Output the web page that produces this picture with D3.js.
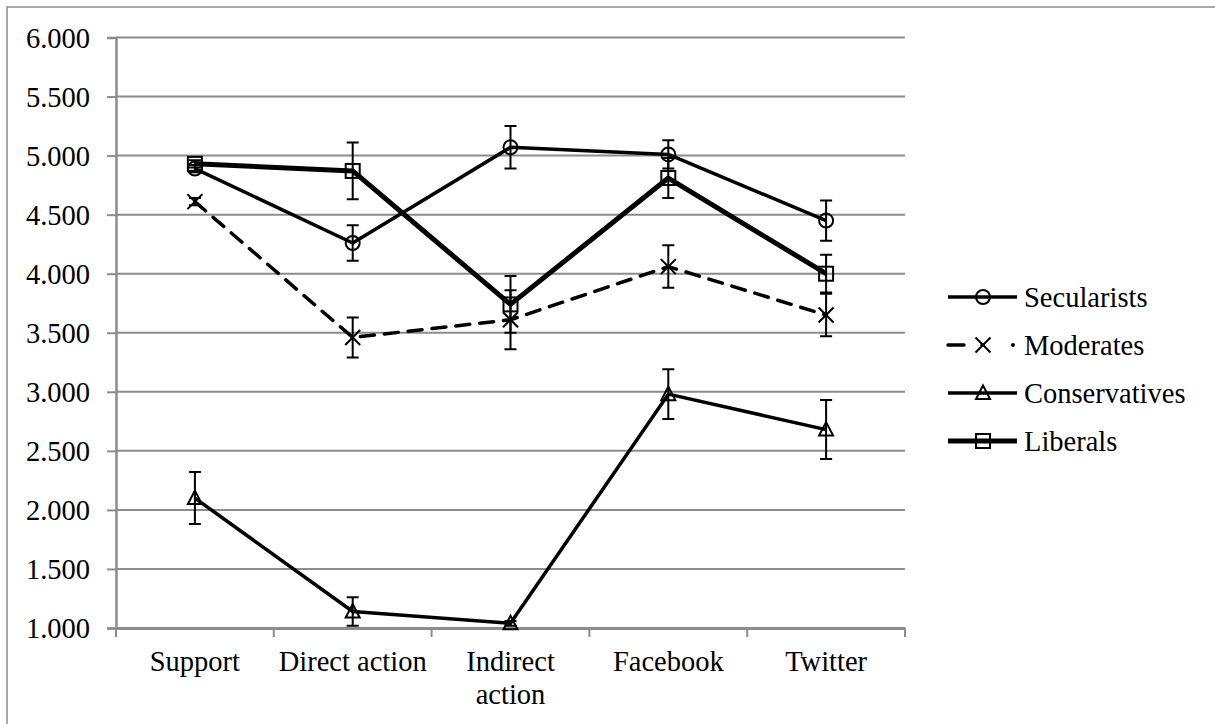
<!DOCTYPE html>
<html><head><meta charset="utf-8">
<script src="https://cdn.jsdelivr.net/npm/d3@7"></script>
<style>body{margin:0;background:#fff}svg{display:block}svg text{font-family:"Liberation Serif","Times New Roman",serif !important}</style>
</head><body>
<svg id="c" width="1215" height="724"></svg>
<script>
const categories = ["Support", "Direct action", "Indirect action", "Facebook", "Twitter"];
const yTicks = [1, 1.5, 2, 2.5, 3, 3.5, 4, 4.5, 5, 5.5, 6];
const seriesNames = ["Secularists", "Moderates", "Conservatives", "Liberals"];
const secularists = [4.89, 4.26, 5.07, 5.01, 4.45];
const secularistsErr = [0.03, 0.15, 0.18, 0.12, 0.17];
const moderates = [4.61, 3.46, 3.61, 4.06, 3.65];
const moderatesErr = [0.03, 0.17, 0.25, 0.18, 0.18];
const conservatives = [2.10, 1.14, 1.04, 2.98, 2.68];
const conservativesErr = [0.22, 0.12, 0.02, 0.21, 0.25];
const liberals = [4.93, 4.87, 3.74, 4.81, 4.00];
const liberalsErr = [0.03, 0.24, 0.24, 0.17, 0.16];

const series = [
  {name: seriesNames[0], values: secularists, err: secularistsErr, marker: "circle", width: 3.5, dash: null},
  {name: seriesNames[1], values: moderates, err: moderatesErr, marker: "cross", width: 3.5, dash: "14,10"},
  {name: seriesNames[2], values: conservatives, err: conservativesErr, marker: "triangle", width: 3.5, dash: null},
  {name: seriesNames[3], values: liberals, err: liberalsErr, marker: "square", width: 5, dash: null}
];

const svg = d3.select("#c");
const font = "Liberation Serif";
const FS = 28.5;
const L = 116, R = 905, T = 37.5, B = 628;

svg.append("rect").attr("x", 7).attr("y", 7).attr("width", 1230).attr("height", 740)
  .attr("fill", "none").attr("stroke", "#8c8c8c").attr("stroke-width", 1.5);

const x = d3.scaleBand().domain(categories).range([L, R]).padding(0);
const y = d3.scaleLinear().domain([1, 6]).range([B, T]);

// gridlines
svg.append("g").selectAll("line").data(yTicks.filter(d => d > 1)).join("line")
  .attr("x1", L).attr("x2", R).attr("y1", d => y(d)).attr("y2", d => y(d))
  .attr("stroke", "#8c8c8c").attr("stroke-width", 2);

// y axis
const yAxis = svg.append("g").attr("transform", `translate(${L},0)`)
  .call(d3.axisLeft(y).tickValues(yTicks).tickFormat(d3.format(".3f")).tickSize(9).tickPadding(17));
yAxis.attr("font-family", font).attr("font-size", FS);
yAxis.select(".domain").attr("stroke", "#8c8c8c").attr("stroke-width", 2.5);
yAxis.selectAll(".tick line").attr("stroke", "#8c8c8c").attr("stroke-width", 2);
yAxis.selectAll("text").attr("fill", "#000").attr("dy", "0.35em");

// x axis
const xAxis = svg.append("g").attr("transform", `translate(0,${B})`)
  .call(d3.axisBottom(x).tickSize(0).tickFormat(""));
xAxis.select(".domain").attr("stroke", "#8c8c8c").attr("stroke-width", 3);
xAxis.selectAll(".tick").remove();
const bounds = categories.map(c => x(c)).concat([R]);
svg.append("g").selectAll("line").data(bounds).join("line")
  .attr("x1", d => d).attr("x2", d => d).attr("y1", B).attr("y2", B + 9)
  .attr("stroke", "#8c8c8c").attr("stroke-width", 2);
const labelLines = {"Indirect action": ["Indirect", "action"]};
categories.forEach(c => {
  const lines = labelLines[c] || [c];
  const t = svg.append("text").attr("x", x(c) + x.bandwidth() / 2).attr("y", 671)
    .attr("text-anchor", "middle").attr("font-family", font).attr("font-size", FS);
  lines.forEach((ln, i) => t.append("tspan").attr("x", x(c) + x.bandwidth() / 2).attr("dy", i === 0 ? 0 : 33).text(ln));
});

const cx = c => x(c) + x.bandwidth() / 2;

function drawMarker(g, type, px, py) {
  const sw = 2;
  if (type === "circle") g.append("circle").attr("cx", px).attr("cy", py).attr("r", 7).attr("fill", "none").attr("stroke", "#000").attr("stroke-width", sw);
  else if (type === "square") g.append("rect").attr("x", px - 7).attr("y", py - 7).attr("width", 14).attr("height", 14).attr("fill", "none").attr("stroke", "#000").attr("stroke-width", sw);
  else if (type === "triangle") g.append("path").attr("d", `M${px},${py - 7.5}L${px + 7},${py + 6}L${px - 7},${py + 6}Z`).attr("fill", "none").attr("stroke", "#000").attr("stroke-width", sw);
  else if (type === "cross") g.append("path").attr("d", `M${px - 7.5},${py - 7.5}L${px + 7.5},${py + 7.5}M${px - 7.5},${py + 7.5}L${px + 7.5},${py - 7.5}`).attr("fill", "none").attr("stroke", "#000").attr("stroke-width", sw);
}

const line = d3.line().x((d, i) => cx(categories[i])).y(d => y(d));
series.forEach(s => {
  const g = svg.append("g");
  g.append("path").datum(s.values).attr("d", line).attr("fill", "none").attr("stroke", "#000")
    .attr("stroke-width", s.width).attr("stroke-dasharray", s.dash).attr("stroke-linejoin", "round")
    .attr("stroke-linecap", s.dash ? "round" : "butt");
  s.values.forEach((v, i) => {
    const px = cx(categories[i]);
    const e = s.err[i];
    g.append("path").attr("d", `M${px},${y(v - e)}V${y(v + e)}M${px - 6},${y(v + e)}H${px + 6}M${px - 6},${y(v - e)}H${px + 6}`)
      .attr("stroke", "#000").attr("stroke-width", 2).attr("fill", "none");
    drawMarker(g, s.marker, px, y(v));
  });
});

// legend
const lg = svg.append("g");
series.forEach((s, i) => {
  const ly = 297 + i * 48;
  lg.append("line").attr("x1", 948).attr("x2", 1017).attr("y1", ly).attr("y2", ly)
    .attr("stroke", "#000").attr("stroke-width", s.width).attr("stroke-dasharray", s.dash ? "16,18,1,100" : null)
    .attr("stroke-linecap", s.dash ? "round" : "butt");
  if (s.dash) lg.append("circle").attr("cx", 1013).attr("cy", ly).attr("r", 2).attr("fill", "#000");
  drawMarker(lg, s.marker, 983, ly);
  lg.append("text").attr("x", 1024).attr("y", ly).attr("dy", "0.35em").attr("font-family", font).attr("font-size", FS).text(s.name);
});
</script>
</body></html>
